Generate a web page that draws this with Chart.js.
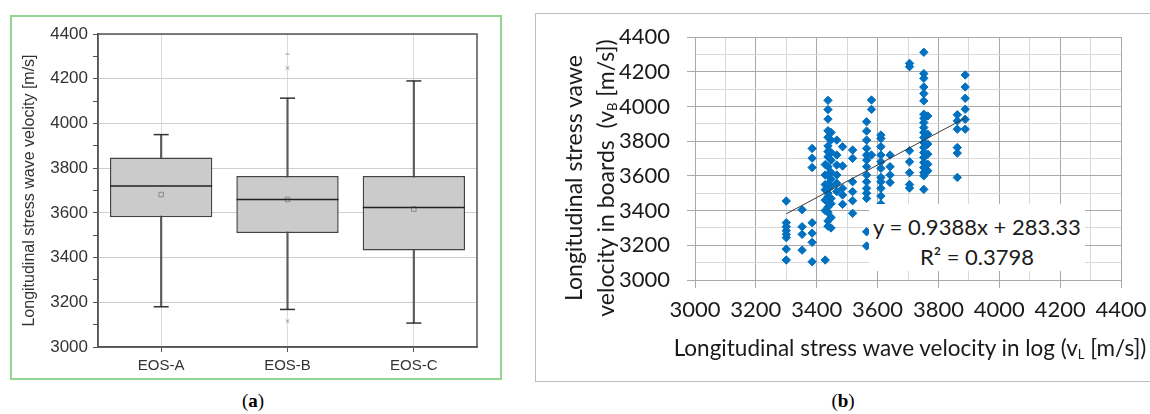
<!DOCTYPE html>
<html>
<head>
<meta charset="utf-8">
<script src="https://cdn.jsdelivr.net/npm/chart.js@4.4.1/dist/chart.umd.min.js"></script>
<style>
  body { margin: 0; width: 1150px; height: 414px; position: relative; overflow: hidden; background: #fff; }
  #boxWrap { position: absolute; left: 10px; top: 15px; width: 488px; height: 361px; border: 2px solid #93d394; }
  #boxChart { position: absolute; left: 0; top: 0; }
  #scatterWrap { position: absolute; left: 535px; top: 13px; width: 660px; height: 367px; border: 1.5px solid #bdbdbd; }
  #scatterChart { position: absolute; left: 537px; top: 15px; }
  .lato { font-family: Lato, 'Open Sans', sans-serif; color: #1a1a1a; }
  #eqBox { position: absolute; left: 869px; top: 204px; width: 216px; height: 67px; background: #fff;
           font-size: 22px; line-height: 30px; padding-top: 8px; box-sizing: border-box; text-align: center; white-space: nowrap; }
  #yTitleB { position: absolute; left: 414px; top: 146px; width: 350px; height: 64px; line-height: 32px; font-size: 23px;
             text-align: center; transform: rotate(-90deg); white-space: nowrap; }
  #xTitleB { position: absolute; left: 640px; top: 333px; width: 540px; line-height: 30px; font-size: 22.5px; text-align: center; white-space: nowrap; }
  sub { font-size: 13px; vertical-align: -3px; line-height: 0; }
  .cap { position: absolute; top: 390px; width: 60px; text-align: center; font-family: 'Liberation Serif', 'DejaVu Serif', serif; font-size: 19px; color: #000; }
</style>
</head>
<body>
<div id="boxWrap"><canvas id="boxChart" width="488" height="361"></canvas></div>
<div id="scatterWrap"></div>
<canvas id="scatterChart" width="613" height="365"></canvas>
<div id="eqBox" class="lato">y = 0.9388x + 283.33<br>R² = 0.3798</div>
<div id="yTitleB" class="lato">Longitudinal stress vawe<br>velocity in boards&nbsp; (v<sub>B</sub> [m/s])</div>
<div id="xTitleB" class="lato">Longitudinal stress wave velocity in log (v<sub>L</sub> [m/s])</div>
<div class="cap" style="left:223px">(<b>a</b>)</div>
<div class="cap" style="left:813px">(<b>b</b>)</div>
<script>
// (a) box plot values
const categories = ['EOS-A', 'EOS-B', 'EOS-C'];
const whiskerLow = [3180, 3168, 3107];
const q1 = [3580, 3510, 3432];
const medians = [3720, 3660, 3624];
const means = [3682, 3660, 3617];
const q3 = [3848, 3765, 3765];
const whiskerHigh = [3950, 4113, 4190];
const outlierGroup = ['EOS-B', 'EOS-B'];
const outlierValues = [4248, 3116];
const extremeGroup = ['EOS-B'];
const extremeValues = [4310];

// shared tick values for both panels
const tickValues = [3000, 3100, 3200, 3300, 3400, 3500, 3600, 3700, 3800, 3900, 4000, 4100, 4200, 4300, 4400];
const tickLabels = ['3000', '', '3200', '', '3400', '', '3600', '', '3800', '', '4000', '', '4200', '', '4400'];

// (b) scatter: log velocity columns and the board velocities measured at each
const logVelocity = [3300, 3352, 3385, 3428, 3437, 3447, 3466, 3485, 3518, 3564, 3580, 3611, 3641, 3705, 3752, 3765, 3862, 3888];
const boardVelocity = [
  [3455, 3330, 3307, 3284, 3263, 3244, 3178, 3115],
  [3405, 3307, 3263, 3172],
  [3758, 3702, 3648, 3330, 3270, 3217, 3105],
  [3665, 3605, 3550, 3520, 3460, 3400, 3115],
  [4035, 3982, 3927, 3860, 3822, 3772, 3740, 3710, 3653, 3605, 3553, 3530, 3500, 3480, 3450, 3420, 3390, 3340, 3310],
  [3850, 3806, 3735, 3690, 3620, 3580, 3540, 3470, 3440, 3360, 3300],
  [3806, 3720, 3662, 3605, 3557, 3510],
  [3768, 3657, 3528, 3490, 3436],
  [3749, 3701, 3566, 3509, 3457, 3384],
  [3912, 3858, 3806, 3758, 3720, 3691, 3653, 3605, 3566, 3528, 3500, 3470, 3278, 3196],
  [4037, 3983, 3720],
  [3835, 3815, 3768, 3720, 3681, 3643, 3591, 3566, 3528, 3484, 3438],
  [3720, 3653, 3605, 3562],
  [4248, 4229, 3745, 3681, 3618, 3550, 3530],
  [4312, 4189, 4162, 4112, 4074, 4032, 3955, 3932, 3907, 3878, 3850, 3821, 3792, 3763, 3734, 3706, 3677, 3648, 3619, 3600, 3522],
  [3945, 3840, 3783, 3725, 3667, 3629],
  [3952, 3917, 3869, 3763, 3731, 3591],
  [4181, 4112, 4047, 3984, 3926, 3869]
];
const trendX = [3300, 3890];
const trendY = [3381, 3935];

const isMajor = v => v % 200 === 0;
const setTicks = scale => { scale.ticks = tickValues.map(v => ({ value: v })); };
const labelFor = v => tickLabels[tickValues.indexOf(v)] || '';

const frame = {
  id: 'frame',
  afterDatasetsDraw(chart) {
    const a = chart.chartArea, ctx = chart.ctx;
    ctx.save();
    ctx.strokeStyle = '#555';
    ctx.lineWidth = 1.5;
    ctx.strokeRect(a.left, a.top, a.right - a.left, a.bottom - a.top);
    ctx.restore();
  }
};

const arial = "'Liberation Sans', Arial, sans-serif";

new Chart(document.getElementById('boxChart'), {
  type: 'bar',
  data: {
    labels: categories,
    datasets: [
      {
        data: categories.map((c, i) => [whiskerLow[i], whiskerHigh[i]]),
        backgroundColor: '#5a5a5a', barThickness: 1.5, grouped: false, order: 5
      },
      {
        data: categories.map((c, i) => [q1[i], q3[i]]),
        backgroundColor: '#cbcbcb', borderColor: '#444', borderWidth: 1.5, borderSkipped: false,
        barPercentage: 0.81, categoryPercentage: 1, grouped: false, order: 4
      },
      {
        type: 'line', data: medians, showLine: false, pointStyle: 'line', pointRadius: 51,
        pointBorderColor: '#222', pointBorderWidth: 1.5, order: 1
      },
      {
        type: 'line', data: whiskerHigh, showLine: false, pointStyle: 'line', pointRadius: 7.5,
        pointBorderColor: '#333', pointBorderWidth: 1.5, order: 1
      },
      {
        type: 'line', data: whiskerLow, showLine: false, pointStyle: 'line', pointRadius: 7.5,
        pointBorderColor: '#333', pointBorderWidth: 1.5, order: 1
      },
      {
        type: 'line', data: means, showLine: false, pointStyle: 'rect', pointRadius: 3.2,
        pointBackgroundColor: 'rgba(0,0,0,0)', pointBorderColor: '#888', pointBorderWidth: 1, order: 1
      },
      {
        type: 'line', data: outlierGroup.map((g, i) => ({ x: g, y: outlierValues[i] })), showLine: false,
        pointStyle: 'crossRot', pointRadius: 2.5, pointBorderColor: '#999', pointBorderWidth: 1, order: 1
      },
      {
        type: 'line', data: extremeGroup.map((g, i) => ({ x: g, y: extremeValues[i] })), showLine: false,
        pointStyle: 'line', pointRadius: 2, pointBorderColor: '#999', pointBorderWidth: 1, order: 1
      }
    ]
  },
  options: {
    responsive: false,
    animation: false,
    devicePixelRatio: 1,
    layout: { autoPadding: false, padding: { top: 17, right: 23, bottom: 0, left: 0 } },
    plugins: { legend: { display: false }, tooltip: { enabled: false } },
    scales: {
      x: {
        grid: { offset: false, color: '#dadada', tickColor: '#555', tickLength: 5 },
        border: { color: '#555', width: 1.5 },
        ticks: { color: '#333', font: { family: arial, size: 15 }, padding: 5 },
        afterFit: s => { s.height = 31; }
      },
      y: {
        min: 3000, max: 4400,
        afterBuildTicks: setTicks,
        grid: { color: c => isMajor(c.tick.value) ? '#cfcfcf' : 'rgba(0,0,0,0)', tickColor: '#555', tickLength: 5 },
        border: { color: '#555', width: 1.5 },
        ticks: { color: '#333', font: { family: arial, size: 17 }, padding: 5, autoSkip: false, callback: labelFor },
        title: { display: true, text: 'Longitudinal stress wave velocity [m/s]', color: '#333',
                 font: { family: arial, size: 16 }, padding: { top: 8, bottom: 0 } },
        afterFit: s => { s.width = 86; }
      }
    }
  },
  plugins: [frame]
});

const scatterPoints = [];
logVelocity.forEach((x, i) => boardVelocity[i].forEach(y => scatterPoints.push({ x: x, y: y })));

const lato = 'Lato, sans-serif';
const gridColor = c => isMajor(c.tick.value) ? '#a9a9a9' : '#d8d8d8';
const tickMark = c => isMajor(c.tick.value) ? '#a9a9a9' : 'rgba(0,0,0,0)';

new Chart(document.getElementById('scatterChart'), {
  type: 'scatter',
  data: {
    datasets: [
      {
        data: trendX.map((x, i) => ({ x: x, y: trendY[i] })),
        showLine: true, borderColor: '#3a3a3a', borderWidth: 1, pointRadius: 0, order: 1
      },
      {
        data: scatterPoints, pointStyle: 'rectRot', pointRadius: 4.2,
        backgroundColor: '#0070c0', borderColor: '#0070c0', borderWidth: 1, order: 2
      }
    ]
  },
  options: {
    responsive: false,
    animation: false,
    devicePixelRatio: 1,
    layout: { autoPadding: false, padding: { top: 22, right: 29, bottom: 0, left: 0 } },
    plugins: { legend: { display: false }, tooltip: { enabled: false } },
    scales: {
      x: {
        min: 3000, max: 4400,
        afterBuildTicks: setTicks,
        grid: { color: gridColor, tickColor: tickMark, tickLength: 8 },
        border: { color: '#a9a9a9' },
        ticks: { color: '#1a1a1a', font: { family: lato, size: 22 }, padding: 9, maxRotation: 0, autoSkip: false, callback: labelFor },
        afterFit: s => { s.height = 100; s.paddingLeft = 0; s.paddingRight = 0; }
      },
      y: {
        min: 3000, max: 4400,
        afterBuildTicks: setTicks,
        grid: { color: gridColor, tickColor: tickMark, tickLength: 8 },
        border: { color: '#a9a9a9' },
        ticks: { color: '#1a1a1a', font: { family: lato, size: 22 }, padding: 17, autoSkip: false, callback: labelFor },
        afterFit: s => { s.width = 158; s.paddingTop = 0; s.paddingBottom = 0; }
      }
    }
  }
});
</script>
</body>
</html>
